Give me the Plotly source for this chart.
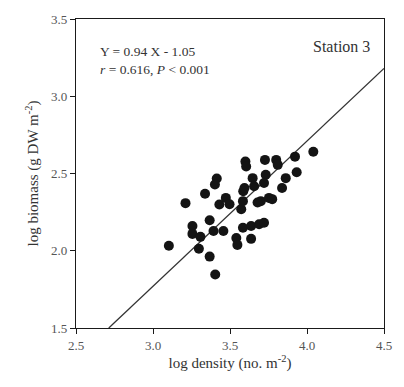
import numpy as np
import plotly.graph_objects as go

# log density (no. m^-2) and log biomass (g DW m^-2), Station 3
log_density = [3.103, 3.211, 3.338, 3.414, 3.402, 3.431, 3.473, 3.497, 3.368, 3.256,
               3.256, 3.308, 3.298, 3.393, 3.457, 3.368, 3.404, 3.541, 3.548, 3.584,
               3.637, 3.689, 3.721, 3.637, 3.573, 3.584, 3.586, 3.594, 3.600, 3.605,
               3.727, 3.800, 3.810, 3.922, 4.041, 3.933, 3.862, 3.838, 3.732, 3.721,
               3.647, 3.657, 3.700, 3.753, 3.774, 3.679]
log_biomass = [2.032, 2.308, 2.369, 2.468, 2.429, 2.299, 2.342, 2.301, 2.197, 2.160,
               2.109, 2.090, 2.013, 2.128, 2.128, 1.962, 1.846, 2.083, 2.038, 2.149,
               2.160, 2.171, 2.181, 2.077, 2.269, 2.321, 2.385, 2.406, 2.577, 2.545,
               2.588, 2.588, 2.556, 2.609, 2.641, 2.508, 2.470, 2.406, 2.492, 2.438,
               2.470, 2.417, 2.321, 2.342, 2.334, 2.312]

# fitted regression: Y = slope * X + intercept
slope = 0.94
intercept = -1.05
x_range = [2.5, 4.5]
y_range = [1.5, 3.5]
tick_vals = [2.5, 3.0, 3.5, 4.0, 4.5]
y_tick_vals = [1.5, 2.0, 2.5, 3.0, 3.5]

x_start = (y_range[0] - intercept) / slope
fit_x = np.linspace(x_start, x_range[1], 50)
fit_y = slope * fit_x + intercept

font_family = "Liberation Serif"
ink = "#1a1a1a"

fig = go.Figure()
fig.add_trace(go.Scatter(x=fit_x, y=fit_y, mode="lines",
                         line=dict(color="#333333", width=1.3),
                         showlegend=False, hoverinfo="skip"))
fig.add_trace(go.Scatter(x=log_density, y=log_biomass, mode="markers",
                         marker=dict(color="#141414", size=10, line=dict(width=0)),
                         showlegend=False))

axis_common = dict(showgrid=False, zeroline=False, showline=True, linecolor=ink,
                   linewidth=1.3, mirror=True, ticks="outside", ticklen=5,
                   tickwidth=1.2, tickcolor=ink, tickformat=".1f",
                   tickfont=dict(family=font_family, size=13, color="#555555"))

fig.update_xaxes(range=x_range, tickvals=tick_vals,
                 title=dict(text="log density (no. m<sup>-2</sup>)",
                            font=dict(family=font_family, size=15, color="#333333"),
                            standoff=4),
                 **axis_common)
fig.update_yaxes(range=y_range, tickvals=y_tick_vals,
                 title=dict(text="log biomass (g DW m<sup>-2</sup>)",
                            font=dict(family=font_family, size=15, color="#333333"),
                            standoff=8),
                 **axis_common)

fig.add_annotation(x=0.07, y=0.925, xref="paper", yref="paper", xanchor="left",
                   yanchor="top", align="left", showarrow=False,
                   text="Y = 0.94 X - 1.05<br><i>r</i> = 0.616, <i>P</i> &lt; 0.001",
                   font=dict(family=font_family, size=13.5, color="#333333"))
fig.add_annotation(x=0.96, y=0.945, xref="paper", yref="paper", xanchor="right",
                   yanchor="top", showarrow=False, text="Station 3",
                   font=dict(family=font_family, size=16, color="#333333"))

fig.update_layout(width=404, height=387, margin=dict(l=76, r=13, t=16, b=59),
                  paper_bgcolor="white", plot_bgcolor="white")

fig.write_html("out.html")
